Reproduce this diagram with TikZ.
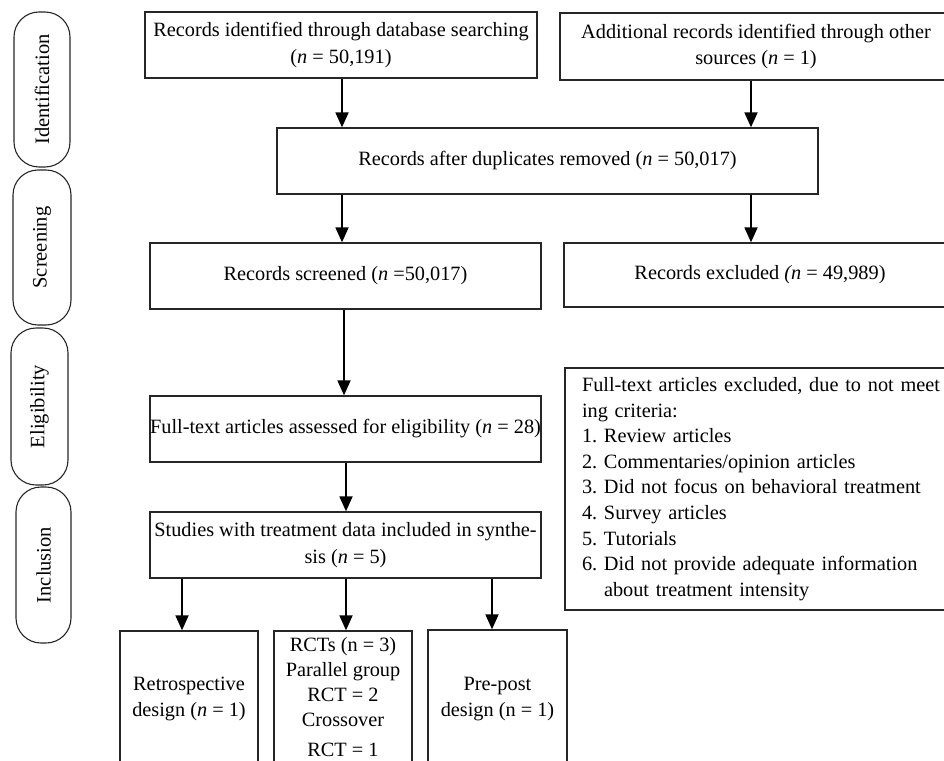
\documentclass[tikz,border=0pt]{standalone}
\usepackage{fontspec}
\setmainfont{Liberation Serif}
\usetikzlibrary{arrows.meta}
\frenchspacing
\begin{document}
\begin{tikzpicture}[x=1pt,y=-1pt,
  box/.style={draw=black!85, line width=1.3pt, rectangle, inner sep=0pt, align=center,
    font=\fontsize{20.3}{26.5}\selectfont},
  stage/.style={draw=black!85, line width=1.1pt, rounded corners=25pt, inner sep=0pt},
  stagetxt/.style={rotate=90, font=\fontsize{20.5}{24}\selectfont, inner sep=0pt},
  arr/.style={-{Triangle[length=15pt,width=13pt]}, line width=1.8pt},
]
\useasboundingbox (0,0) rectangle (944,760);
\clip (0,0) rectangle (944,760);

% stage pills
\node[stage, minimum width=56pt, minimum height=155pt] (s1) at (42,89.5) {};
\node[stage, minimum width=58pt, minimum height=155pt] (s2) at (42,247.5) {};
\node[stage, minimum width=57pt, minimum height=157pt] (s3) at (39.5,406.5) {};
\node[stage, minimum width=55pt, minimum height=156pt] (s4) at (43.5,565) {};
\node[stagetxt] (l1) at (s1.center) {Identification};
\node[stagetxt] (l2) at (s2.center) {Screening};
\node[stagetxt] (l3) at (s3.center) {Eligibility};
\node[stagetxt] (l4) at (s4.center) {Inclusion};

% boxes
\node[box, minimum width=392pt, minimum height=66pt] (b1) at (341,45)
  {Records identified through database searching\\(\textit{n} = 50,191)};
\node[box, minimum width=392pt, minimum height=67pt] (b2) at (756,46.5)
  {Additional records identified through other\\sources (\textit{n} = 1)};
\node[box, minimum width=541pt, minimum height=66pt] (b3) at (547.5,161)
  {Records after duplicates removed (\textit{n} = 50,017)};
\node[box, minimum width=391pt, minimum height=66pt] (b4) at (345.5,276)
  {Records screened (\textit{n} =50,017)};
\node[box, minimum width=392pt, minimum height=64pt] (b5) at (760,275)
  {Records excluded \textit{(n} = 49,989)};
\node[box, text width=366pt, align=left, inner xsep=17pt, minimum height=242pt,
  font=\fontsize{20.3}{25.6}\selectfont] (b6) at (765,489)
  {Full-text articles excluded, due to not meet\\
   ing criteria:\\
   1. Review articles\\
   2. Commentaries/opinion articles\\
   3. Did not focus on behavioral treatment\\
   4. Survey articles\\
   5. Tutorials\\
   6. Did not provide adequate information\\
   \hspace*{22pt}about treatment intensity};
\node[box, minimum width=391pt, minimum height=66pt] (b7) at (345.5,429)
  {Full-text articles assessed for eligibility (\textit{n} = 28)};
\node[box, minimum width=391pt, minimum height=66pt] (b8) at (345.5,545)
  {Studies with treatment data included in synthe-\\sis (\textit{n} = 5)};
\node[box, minimum width=138pt, minimum height=136pt] (b9) at (189,699)
  {Retrospective\\design (\textit{n} = 1)};
\node[box, minimum width=138pt, minimum height=133pt, font=\fontsize{20.3}{25}\selectfont] (b10) at (343,697.5)
  {RCTs (n = 3)\\Parallel group\\RCT = 2\\Crossover\\[5pt]RCT = 1};
\node[box, minimum width=139pt, minimum height=138pt] (b11) at (497.5,699)
  {Pre-post\\design (n = 1)};

% arrow columns
\coordinate (xa) at (342,0);
\coordinate (xb) at (751,0);
\coordinate (xc) at (344,0);
\coordinate (xd) at (346,0);
\coordinate (xe) at (182,0);
\coordinate (xf) at (492,0);

\draw[arr] (b1.south -| xa) -- (b3.north -| xa);
\draw[arr] (b2.south -| xb) -- (b3.north -| xb);
\draw[arr] (b3.south -| xa) -- (b4.north -| xa);
\draw[arr] (b3.south -| xb) -- (b5.north -| xb);
\draw[arr] (b4.south -| xc) -- (b7.north -| xc);
\draw[arr] (b7.south -| xd) -- (b8.north -| xd);
\draw[arr] (b8.south -| xe) -- (b9.north -| xe);
\draw[arr] (b8.south -| xd) -- (b10.north -| xd);
\draw[arr] (b8.south -| xf) -- (b11.north -| xf);
\end{tikzpicture}
\end{document}
